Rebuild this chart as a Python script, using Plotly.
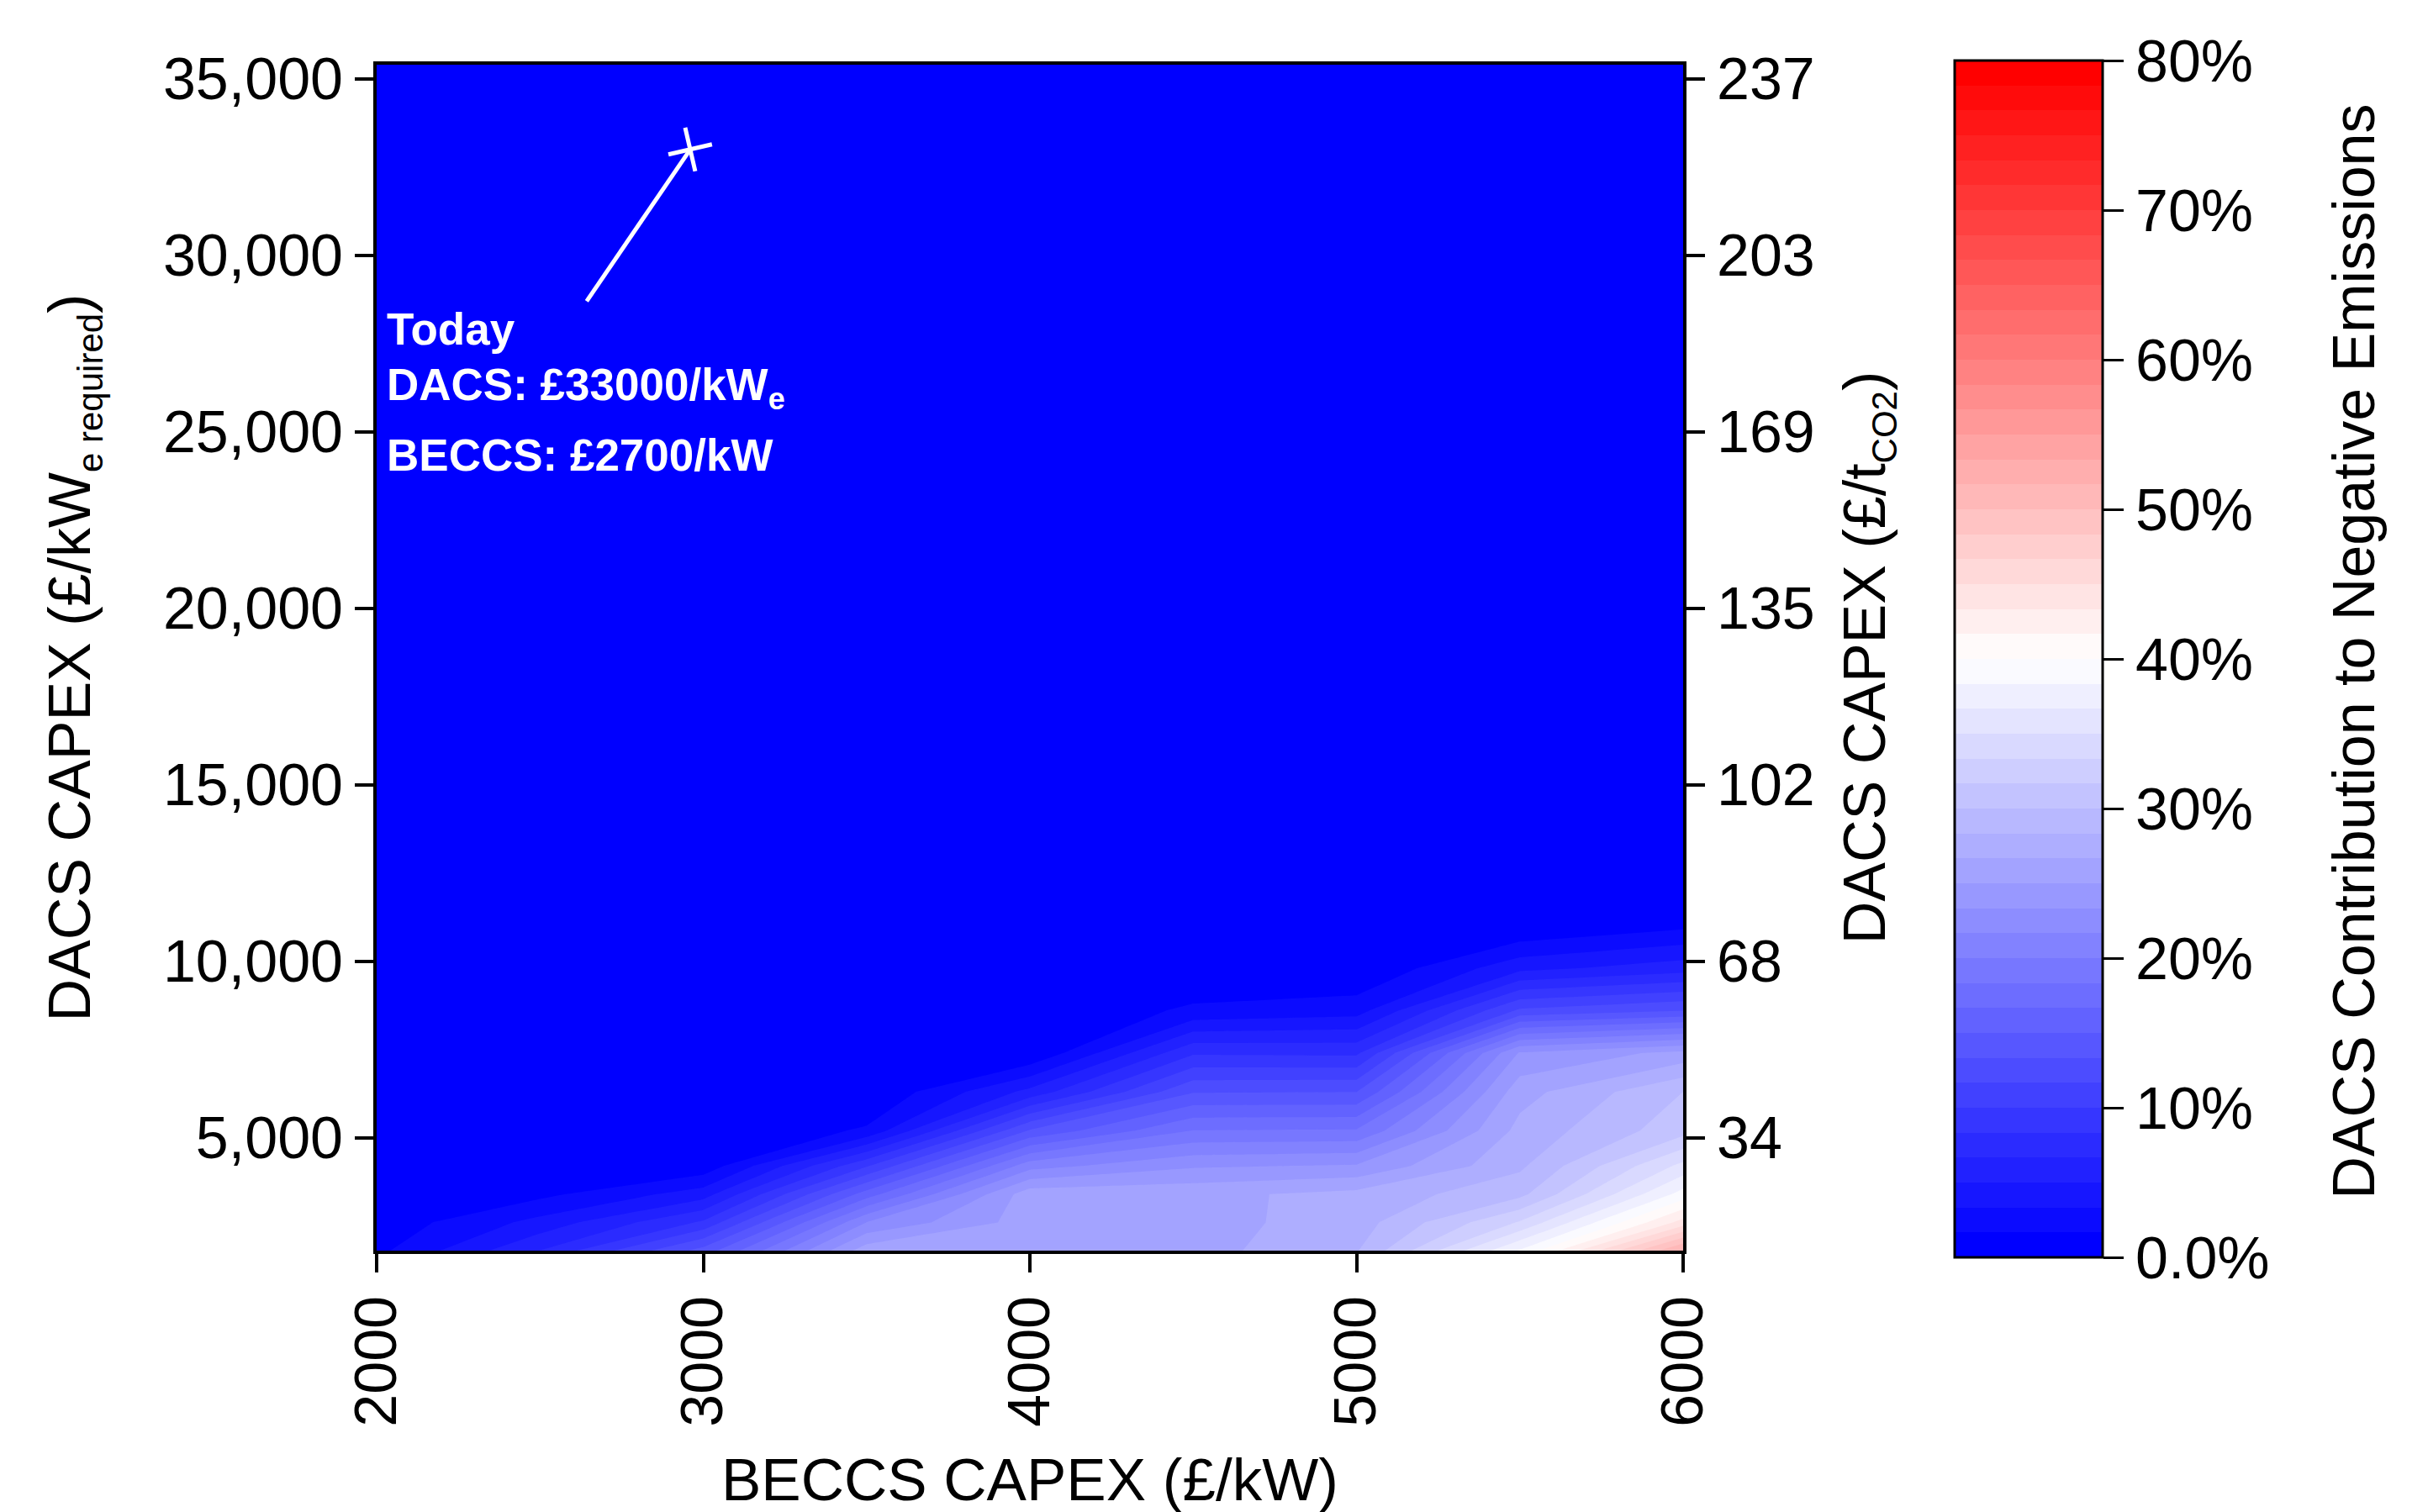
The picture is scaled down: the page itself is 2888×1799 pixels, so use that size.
import plotly.graph_objects as go

# ---- data ----
beccs_capex = [2000, 2500, 3000, 3500, 4000, 4500, 5000, 5500, 6000]          # £/kW
dacs_capex = [1800, 2600, 3400, 4200, 5200, 6300, 7400, 8600, 9800, 11000, 12500, 35400]  # £/kWe required
# DACS contribution to negative emissions (%), rows follow dacs_capex, columns follow beccs_capex
dacs_share = [
    [1.2, 6.7, 14.0, 26.0, 25.8, 26.0, 28.2, 38.5, 52.0],
    [0.5, 3.9, 8.6, 21.7, 25.8, 26.0, 27.5, 33.5, 44.0],
    [0.0, 1.2, 4.2, 15.8, 26.0, 26.2, 27.2, 29.5, 39.0],
    [0.0, 0.3, 0.5, 9.8, 21.0, 23.1, 23.5, 28.0, 35.5],
    [0.0, 0.0, 0.0, 1.9, 13.5, 18.4, 18.5, 27.2, 31.0],
    [0.0, 0.0, 0.0, 0.0, 5.5, 13.2, 13.3, 26.0, 30.0],
    [0.0, 0.0, 0.0, 0.0, 0.0, 8.1, 8.0, 23.5, 25.5],
    [0.0, 0.0, 0.0, 0.0, 0.0, 2.0, 2.6, 12.0, 13.3],
    [0.0, 0.0, 0.0, 0.0, 0.0, 0.0, 0.0, 4.5, 5.9],
    [0.0, 0.0, 0.0, 0.0, 0.0, 0.0, 0.0, 0.0, 1.3],
    [0.0, 0.0, 0.0, 0.0, 0.0, 0.0, 0.0, 0.0, 0.0],
    [0.0, 0.0, 0.0, 0.0, 0.0, 0.0, 0.0, 0.0, 0.0],
]
x_ticks = [2000, 3000, 4000, 5000, 6000]
y_ticks = [5000, 10000, 15000, 20000, 25000, 30000, 35000]
y2_ticktext = ["34", "68", "102", "135", "169", "203", "237"]        # £/tCO2
cb_ticks = [0, 10, 20, 30, 40, 50, 60, 70, 80]
cb_ticktext = ["0.0%", "10%", "20%", "30%", "40%", "50%", "60%", "70%", "80%"]

today_beccs = [2960]
today_dacs = [33000]
pointer_x = [2643, 2960]
pointer_y = [28700, 33000]

FONT = "Arial, Liberation Sans, sans-serif"
FS = 70
STEP = 80 / 48

fig = go.Figure()
fig.add_trace(go.Contour(
    x=beccs_capex, y=dacs_capex, z=dacs_share,
    zmin=0, zmax=80, autocontour=False,
    contours=dict(start=STEP, end=80 - STEP, size=STEP, coloring="fill", showlines=False),
    line=dict(width=0, smoothing=0),
    colorscale=[[0, "rgb(0,0,255)"], [0.5, "rgb(255,255,255)"], [1, "rgb(255,0,0)"]],
    colorbar=dict(
        x=(2325 - 447.6) / 1554.4, xanchor="left", xpad=0,
        y=(1488 - 784) / 1411, yanchor="middle", ypad=0,
        lenmode="pixels", len=1424, thicknessmode="pixels", thickness=176,
        outlinewidth=3, outlinecolor="black",
        tickvals=cb_ticks, ticktext=cb_ticktext,
        ticks="outside", ticklen=24, tickwidth=3, tickcolor="black",
        tickfont=dict(family=FONT, size=FS, color="black"),
    ),
    hoverinfo="skip",
))

fig.add_trace(go.Scatter(x=pointer_x, y=pointer_y, mode="lines",
                         line=dict(color="white", width=5), showlegend=False, hoverinfo="skip"))
fig.add_trace(go.Scatter(x=today_beccs, y=today_dacs, mode="markers",
                         marker=dict(symbol="cross-thin", size=38, angle=-13,
                                     line=dict(color="white", width=5)),
                         showlegend=False, hoverinfo="skip"))
fig.add_trace(go.Scatter(x=[None], y=[None], yaxis="y2", showlegend=False, hoverinfo="skip"))

ann_font = dict(family=FONT, size=53, color="white")
for txt, yy in [("<b>Today</b>", 27917),
                ("<b>DACS: £33000/kW<sub><span style='font-size:36px'>e</span></sub></b>", 26250),
                ("<b>BECCS: £2700/kW</b>", 24350)]:
    fig.add_annotation(x=2025, y=yy, xref="x", yref="y", text=txt, showarrow=False,
                       xanchor="left", yanchor="middle", font=ann_font)

# colour-bar title
fig.add_annotation(x=(2800 - 447.6) / 1554.4, y=(1488 - 775) / 1411, xref="paper", yref="paper",
                   text="DACS Contribution to Negative Emissions", textangle=-90,
                   showarrow=False, xanchor="center", yanchor="middle",
                   font=dict(family=FONT, size=FS, color="black"))
# x-axis title
fig.add_annotation(x=0.5, y=(1488 - 1760) / 1411, xref="paper", yref="paper",
                   text="BECCS CAPEX (£/kW)", showarrow=False,
                   xanchor="center", yanchor="middle",
                   font=dict(family=FONT, size=71, color="black"))

axis_common = dict(showline=True, linecolor="black", linewidth=4, ticks="outside",
                   ticklen=22, tickwidth=4, tickcolor="black", showgrid=False,
                   zeroline=False, automargin=False,
                   tickfont=dict(family=FONT, size=FS, color="black"))

fig.update_layout(
    width=2888, height=1799,
    margin=dict(l=447.6, r=886.4, t=77, b=311, pad=0, autoexpand=False),
    paper_bgcolor="white", plot_bgcolor="white",
    showlegend=False,
    xaxis=dict(range=[2000, 6000], tickvals=x_ticks, tickangle=-90, mirror=True,
               **axis_common),
    yaxis=dict(range=[1800, 35400], tickvals=y_ticks, tickformat=",d", mirror=True,
               title=dict(text="DACS CAPEX (£/kW<sub><span style='font-size:42px'>e required</span></sub>)",
                          standoff=64,
                          font=dict(family=FONT, size=FS, color="black")),
               **axis_common),
    yaxis2=dict(range=[1800, 35400], overlaying="y", side="right",
                tickvals=y_ticks, ticktext=y2_ticktext,
                title=dict(text="DACS CAPEX (£/t<sub><span style='font-size:42px'>CO2</span></sub>)",
                           standoff=36,
                           font=dict(family=FONT, size=FS, color="black")),
                **axis_common),
)

fig.write_html("out.html")
